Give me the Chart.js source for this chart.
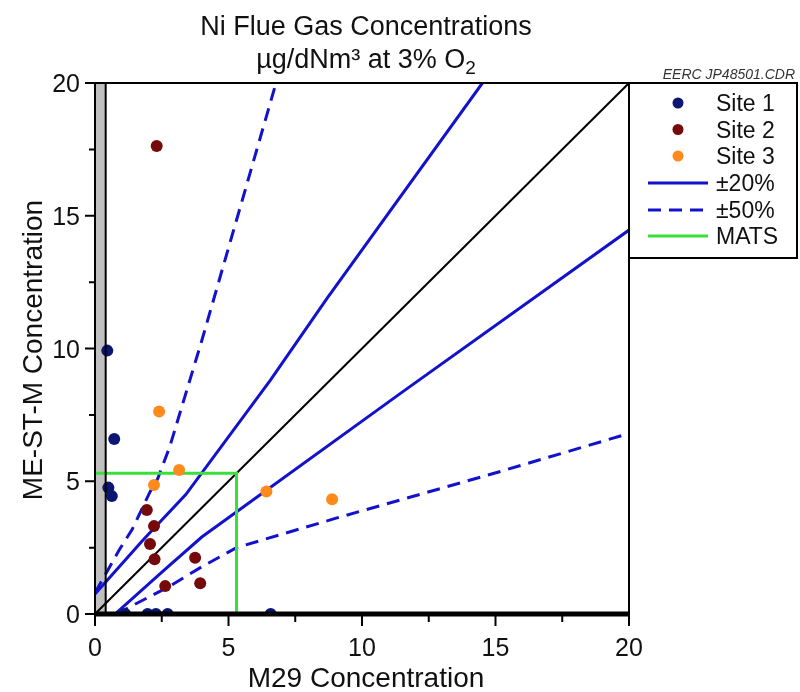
<!DOCTYPE html>
<html>
<head>
<meta charset="utf-8">
<script src="https://cdn.jsdelivr.net/npm/chart.js@4.4.1/dist/chart.umd.min.js"></script>
<style>
  html, body { margin: 0; padding: 0; background: #fff; }
  #wrap { width: 800px; height: 692px; position: relative; }
</style>
</head>
<body>
<div id="wrap"><canvas id="niChart"></canvas></div>
<script>
// measured values (M29 vs ME-ST-M, ug/dNm3)
const site1X = [0.46, 0.72, 0.50, 0.63, 1.13, 1.97, 2.28, 2.72, 6.58];
const site1Y = [9.92, 6.59, 4.76, 4.44, 0, 0, 0, 0, 0];
const site2X = [2.31, 1.94, 2.21, 2.06, 2.23, 3.75, 2.63, 3.94];
const site2Y = [17.63, 3.92, 3.31, 2.64, 2.06, 2.12, 1.05, 1.16];
const site3X = [2.40, 3.15, 2.21, 6.42, 8.88];
const site3Y = [7.63, 5.42, 4.86, 4.61, 4.32];

// agreement bands
const plus20X = [0, 1.8, 3.4, 6.57, 8.69, 14.51];
const plus20Y = [0.75, 2.79, 4.5, 8.81, 11.89, 20];
const minus20X = [0.75, 2.6, 4.0, 11.44, 20];
const minus20Y = [0, 1.66, 2.9, 8.31, 14.46];
const plus50X = [0, 0.9, 1.4, 2.06, 2.35, 2.8, 4.0, 6.78];
const plus50Y = [0.8, 2.4, 3.2, 4.6, 5.1, 6.3, 10.3, 20];
const minus50X = [0.8, 2.8, 4.0, 5.3, 9.0, 14.95, 20];
const minus50Y = [0, 1.05, 1.78, 2.5, 3.6, 5.3, 6.8];
const matsX = [0, 5.3, 5.3];
const matsY = [5.3, 5.3, 0];
const parityX = [0, 20];
const parityY = [0, 20];
const shadeMax = 0.4; // gray band on the y axis

const majorTicks = [0, 5, 10, 15, 20];
const minorTicks = [2.5, 7.5, 12.5, 17.5];
const legendLabels = ["Site 1", "Site 2", "Site 3", "\u00b120%", "\u00b150%", "MATS"];

const NAVY = "#0a1672";
const MAROON = "#760a0a";
const ORANGE = "#ff8a1c";
const BLUE = "#1212cc";
const GREEN = "#3ae03a";
const FONT = '"Liberation Sans", Arial, sans-serif';

function pts(xs, ys) {
  return xs.map((x, i) => ({ x: x, y: ys[i] }));
}

function lineSet(label, xs, ys, color, width, dash, order) {
  return {
    label, data: pts(xs, ys), showLine: true, borderColor: color, borderWidth: width,
    borderDash: dash || [], pointRadius: 0, fill: false, tension: 0, order
  };
}

function dotSet(label, xs, ys, color) {
  return {
    label, data: pts(xs, ys), backgroundColor: color, borderColor: color,
    borderWidth: 0, pointRadius: 6, pointHoverRadius: 6, order: 0
  };
}

function text(ctx, s, x, y, size, align, extra) {
  ctx.font = (extra || "") + size + "px " + FONT;
  ctx.textAlign = align || "left";
  ctx.fillText(s, x, y);
}

const decor = {
  id: "decor",
  beforeDatasetsDraw(chart) {
    const { ctx, chartArea: a, scales: { x } } = chart;
    ctx.save();
    ctx.fillStyle = "#c0c0c0";
    const x1 = x.getPixelForValue(shadeMax);
    ctx.fillRect(a.left, a.top, x1 - a.left, a.bottom - a.top);
    ctx.restore();
  },
  afterDatasetsDraw(chart) {
    const { ctx, chartArea: a, scales: { x, y } } = chart;
    ctx.save();
    ctx.strokeStyle = "#000";
    ctx.lineWidth = 2;
    // frame
    ctx.beginPath();
    ctx.moveTo(a.left, a.top); ctx.lineTo(a.right, a.top); ctx.lineTo(a.right, a.bottom);
    ctx.moveTo(a.left, a.top); ctx.lineTo(a.left, a.bottom);
    const xs = x.getPixelForValue(shadeMax);
    ctx.moveTo(xs, a.top); ctx.lineTo(xs, a.bottom);
    ctx.stroke();
    // thick x axis
    ctx.lineWidth = 5;
    ctx.beginPath();
    ctx.moveTo(a.left - 1, a.bottom); ctx.lineTo(a.right + 1, a.bottom);
    ctx.stroke();
    // ticks
    ctx.lineWidth = 2;
    ctx.beginPath();
    majorTicks.forEach(v => {
      const px = x.getPixelForValue(v), py = y.getPixelForValue(v);
      ctx.moveTo(px, a.bottom); ctx.lineTo(px, a.bottom + 12);
      ctx.moveTo(a.left, py); ctx.lineTo(a.left - 10, py);
    });
    minorTicks.forEach(v => {
      const px = x.getPixelForValue(v), py = y.getPixelForValue(v);
      ctx.moveTo(px, a.bottom); ctx.lineTo(px, a.bottom + 8);
      ctx.moveTo(a.left, py); ctx.lineTo(a.left - 6, py);
    });
    ctx.stroke();
    ctx.restore();
  },
  afterDraw(chart) {
    const { ctx, chartArea: a, scales: { x, y } } = chart;
    ctx.save();
    ctx.fillStyle = "#111";
    ctx.textBaseline = "alphabetic";
    majorTicks.forEach(v => {
      text(ctx, String(v), x.getPixelForValue(v), a.bottom + 42, 25, "center");
      text(ctx, String(v), a.left - 15, y.getPixelForValue(v) + 9, 25, "right");
    });

    // titles
    const cx = 366;
    text(ctx, "Ni Flue Gas Concentrations", cx, 35, 27, "center");
    ctx.font = "27px " + FONT;
    const main = "\u00b5g/dNm\u00b3 at 3% O";
    const w1 = ctx.measureText(main).width;
    ctx.font = "19px " + FONT;
    const w2 = ctx.measureText("2").width;
    const sx = cx - (w1 + w2) / 2;
    text(ctx, main, sx, 68, 27, "left");
    text(ctx, "2", sx + w1, 74, 19, "left");

    text(ctx, "M29 Concentration", cx, 687, 28, "center");
    ctx.save();
    ctx.translate(42, 350);
    ctx.rotate(-Math.PI / 2);
    text(ctx, "ME-ST-M Concentration", 0, 0, 28, "center");
    ctx.restore();

    ctx.fillStyle = "#333";
    text(ctx, "EERC JP48501.CDR", 795, 79, 14, "right", "italic ");

    // legend
    const lx = a.right, ly = a.top, lw = 797 - a.right, lh = 175;
    ctx.fillStyle = "#fff";
    ctx.fillRect(lx, ly, lw, lh);
    ctx.strokeStyle = "#000";
    ctx.lineWidth = 2;
    ctx.strokeRect(lx, ly, lw, lh);
    const rows = [103, 129.5, 156, 183, 210, 236];
    const ds = chart.data.datasets;
    legendLabels.forEach((lab, i) => {
      const set = ds[i];
      const ry = rows[i];
      if (set.showLine) {
        ctx.strokeStyle = set.borderColor;
        ctx.lineWidth = set.borderWidth;
        ctx.setLineDash(set.borderDash);
        ctx.beginPath();
        ctx.moveTo(648, ry); ctx.lineTo(708, ry);
        ctx.stroke();
        ctx.setLineDash([]);
      } else {
        ctx.fillStyle = set.backgroundColor;
        ctx.beginPath();
        ctx.arc(678, ry, 5.5, 0, Math.PI * 2);
        ctx.fill();
      }
      ctx.fillStyle = "#111";
      text(ctx, lab, 716, ry + 8, 23, "left");
    });
    ctx.restore();
  }
};

new Chart(document.getElementById("niChart"), {
  type: "scatter",
  data: {
    datasets: [
      dotSet("Site 1", site1X, site1Y, NAVY),
      dotSet("Site 2", site2X, site2Y, MAROON),
      dotSet("Site 3", site3X, site3Y, ORANGE),
      lineSet("\u00b120%", plus20X, plus20Y, BLUE, 3, null, 2),
      lineSet("\u00b150%", plus50X, plus50Y, BLUE, 3, [13, 8], 2),
      lineSet("MATS", matsX, matsY, GREEN, 3, null, 1),
      lineSet("-20%", minus20X, minus20Y, BLUE, 3, null, 2),
      lineSet("-50%", minus50X, minus50Y, BLUE, 3, [13, 8], 2),
      lineSet("1:1", parityX, parityY, "#000", 2, null, 3)
    ]
  },
  options: {
    responsive: true,
    maintainAspectRatio: false,
    animation: false,
    layout: { padding: { left: 95, right: 171, top: 83, bottom: 78 } },
    plugins: { legend: { display: false }, title: { display: false }, tooltip: { enabled: false } },
    scales: {
      x: { type: "linear", min: 0, max: 20, display: false },
      y: { type: "linear", min: 0, max: 20, display: false }
    }
  },
  plugins: [decor]
});
</script>
</body>
</html>
